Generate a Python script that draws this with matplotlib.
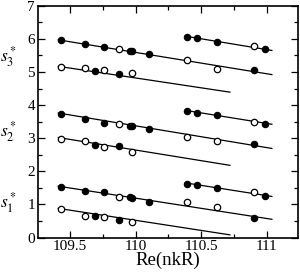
import numpy as np
import matplotlib
matplotlib.use("Agg")
import matplotlib.pyplot as plt
from matplotlib.ticker import MultipleLocator

plt.rcParams['font.family'] = ['Liberation Serif', 'DejaVu Serif']
plt.rcParams['mathtext.fontset'] = 'stix'

# ---- data ----
# long upper branch of each group (left + right part)
x_up = [109.43, 109.615, 109.76, 109.87, 109.955, 109.975, 110.10, 110.39, 110.62, 110.90]
open_up = [0, 0, 0, 1, 0, 0, 0, 1, 1, 0]
s3_up = [5.95, 5.84, 5.74, 5.70, 5.63, 5.62, 5.53, 5.37, 5.08, 5.05]
s2_up = [3.74, 3.59, 3.47, 3.44, 3.37, 3.36, 3.29, 3.04, 2.92, 2.82]
s1_up = [1.53, 1.41, 1.37, 1.22, 1.21, 1.20, 1.08, 1.06, 0.91, 0.58]

# lower branch (left only)
x_lo = [109.43, 109.615, 109.69, 109.76, 109.87, 109.97]
open_lo = [1, 1, 0, 1, 0, 1]
s3_lo = [5.14, 5.11, 5.02, 5.07, 4.95, 4.98]
s2_lo = [2.99, 2.92, 2.80, 2.72, 2.77, 2.58]
s1_lo = [0.86, 0.66, 0.66, 0.63, 0.53, 0.48]

# short right branch
x_rt = [110.39, 110.47, 110.62, 110.90, 110.99]
open_rt = [0, 0, 0, 1, 0]
s3_rt = [6.06, 6.03, 5.90, 5.77, 5.68]
s2_rt = [3.82, 3.77, 3.69, 3.49, 3.42]
s1_rt = [1.63, 1.60, 1.50, 1.36, 1.26]

# fitted lines: x ends and y ends
fit_up_x = [109.41, 111.04]
fit_lo_x = [109.41, 110.72]
fit_rt_x = [110.38, 111.04]
fit_s3 = {'up': [5.97, 4.92], 'lo': [5.17, 4.39], 'rt': [6.08, 5.65]}
fit_s2 = {'up': [3.76, 2.69], 'lo': [3.02, 2.18], 'rt': [3.84, 3.42]}
fit_s1 = {'up': [1.55, 0.55], 'lo': [0.88, 0.08], 'rt': [1.65, 1.24]}

fig = plt.figure(figsize=(3.0, 2.73), dpi=100)
ax = fig.add_axes([0.1257, 0.130, 0.8666, 0.849])


def draw_points(xs, ys, opens):
    xs = np.array(xs)
    ys = np.array(ys)
    o = np.array(opens, dtype=bool)
    ax.plot(xs[~o], ys[~o], 'o', ms=4.6, mfc='black', mec='black', mew=0.8, zorder=3)
    ax.plot(xs[o], ys[o], 'o', ms=4.6, mfc='white', mec='black', mew=0.9, zorder=3)


for fit, up, lo, rt in [(fit_s3, s3_up, s3_lo, s3_rt),
                        (fit_s2, s2_up, s2_lo, s2_rt),
                        (fit_s1, s1_up, s1_lo, s1_rt)]:
    ax.plot(fit_up_x, fit['up'], color='black', lw=0.9, zorder=2)
    ax.plot(fit_lo_x, fit['lo'], color='black', lw=0.9, zorder=2)
    ax.plot(fit_rt_x, fit['rt'], color='black', lw=0.9, zorder=2)
    draw_points(x_up, up, open_up)
    draw_points(x_lo, lo, open_lo)
    draw_points(x_rt, rt, open_rt)

ax.set_xlim(109.253, 111.237)
ax.set_ylim(0, 7)
ax.xaxis.set_major_locator(MultipleLocator(0.5))
ax.xaxis.set_minor_locator(MultipleLocator(0.25))
ax.yaxis.set_major_locator(MultipleLocator(1))
ax.yaxis.set_minor_locator(MultipleLocator(0.5))
ax.set_xticks([109.5, 110, 110.5, 111])
ax.set_xticklabels(['109.5', '110', '110.5', '111'])
ax.tick_params(which='both', direction='in', top=True, right=True, labelsize=11, pad=2)
ax.tick_params(which='major', length=5, width=0.9)
ax.tick_params(which='minor', length=3, width=0.9)
for sp in ax.spines.values():
    sp.set_linewidth(1.2)

ax.set_xlabel('Re(nkR)', fontsize=13.5, labelpad=-1)

# group labels on the left
for yv, lab in [(5.45, r'$s^*_3$'), (3.2, r'$s^*_2$'), (1.05, r'$s^*_1$')]:
    fig.text(0.0, 1 - (237.5 - yv * 33.2) / 273, lab, fontsize=12.5, va='center', ha='left')

fig.savefig('out.png', dpi=100)
